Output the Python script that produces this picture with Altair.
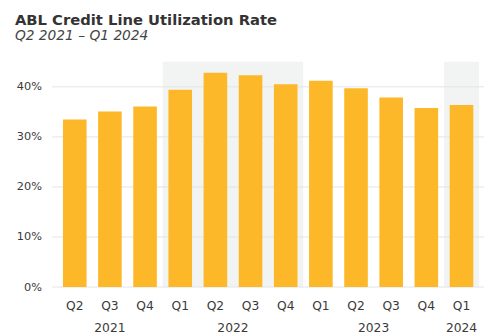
import altair as alt
import pandas as pd

quarters = ["Q2", "Q3", "Q4", "Q1", "Q2", "Q3", "Q4", "Q1", "Q2", "Q3", "Q4", "Q1"]
years = ["2021", "2021", "2021", "2022", "2022", "2022", "2022", "2023", "2023", "2023", "2023", "2024"]
rates = [33.5, 35.1, 36.1, 39.4, 42.8, 42.3, 40.5, 41.2, 39.7, 37.9, 35.8, 36.4]
y_ticks = [0, 10, 20, 30, 40]
year_labels = ["2021", "2022", "2023", "2024"]
shaded_years = ["2022", "2024"]

W, H = 439, 229
FONT = "DejaVu Sans"
BAR = "#FDB829"
TXT = "#3a3a3a"

df = pd.DataFrame({"quarter": quarters, "year": years, "rate": rates})
df["idx"] = range(len(df))

spans = df.groupby("year", sort=False)["idx"].agg(["min", "max"]).reset_index()
spans["start"] = spans["min"]
spans["end"] = spans["max"] + 1
spans["mid"] = (spans["start"] + spans["end"]) / 2
spans = spans[spans["year"].isin(year_labels)]
shade = spans[spans["year"].isin(shaded_years)]

xs = alt.Scale(domain=[0, len(quarters)], nice=False, zero=False)
ys = alt.Scale(domain=[0, 45], nice=False)

shade_layer = alt.Chart(shade).mark_rect(color="#f2f3f3").encode(
    x=alt.X("start:Q", scale=xs, axis=None),
    x2="end:Q",
    y=alt.value(0),
    y2=alt.value(H),
)

grid = alt.Chart(pd.DataFrame({"v": y_ticks})).mark_rule(color="#e3e3e3", strokeWidth=1).encode(
    y=alt.Y("v:Q", scale=ys,
            axis=alt.Axis(values=y_ticks, labelExpr="datum.value + '%'", domain=False, ticks=False,
                          grid=False, labelFont=FONT, labelFontSize=11.5, labelColor=TXT,
                          labelPadding=11, title=None)),
    x=alt.value(0),
    x2=alt.value(W),
)

bars = alt.Chart(df).transform_calculate(center="datum.idx + 0.5").mark_bar(
    color=BAR, size=24
).encode(
    x=alt.X("center:Q", scale=xs, axis=None),
    y=alt.Y("rate:Q", scale=ys),
)

qlabels = alt.Chart(df).transform_calculate(center="datum.idx + 0.5").mark_text(
    font=FONT, fontSize=12.5, color=TXT, baseline="alphabetic"
).encode(
    x=alt.X("center:Q", scale=xs),
    y=alt.value(H + 23),
    text="quarter:N",
)

ylabels = alt.Chart(spans).mark_text(
    font=FONT, fontSize=12.5, color=TXT, baseline="alphabetic"
).encode(
    x=alt.X("mid:Q", scale=xs),
    y=alt.value(H + 46),
    text="year:N",
)

chart = alt.layer(shade_layer, grid, bars, qlabels, ylabels).properties(
    width=W,
    height=H,
    autosize=alt.AutoSizeParams(type="none"),
    padding={"left": 45, "top": 52, "right": 0, "bottom": 46},
    title=alt.TitleParams(
        text="ABL Credit Line Utilization Rate",
        subtitle="Q2 2021 – Q1 2024",
        anchor="start",
        frame="group",
        dx=-38,
        offset=19,
        font=FONT,
        fontSize=15,
        fontWeight="bold",
        color="#333333",
        subtitleFont=FONT,
        subtitleFontSize=14,
        subtitleFontStyle="italic",
        subtitleColor="#444444",
        subtitlePadding=1,
    ),
).configure_view(stroke=None)

chart.save("out.html", embed_options={"renderer": "svg", "actions": False})
